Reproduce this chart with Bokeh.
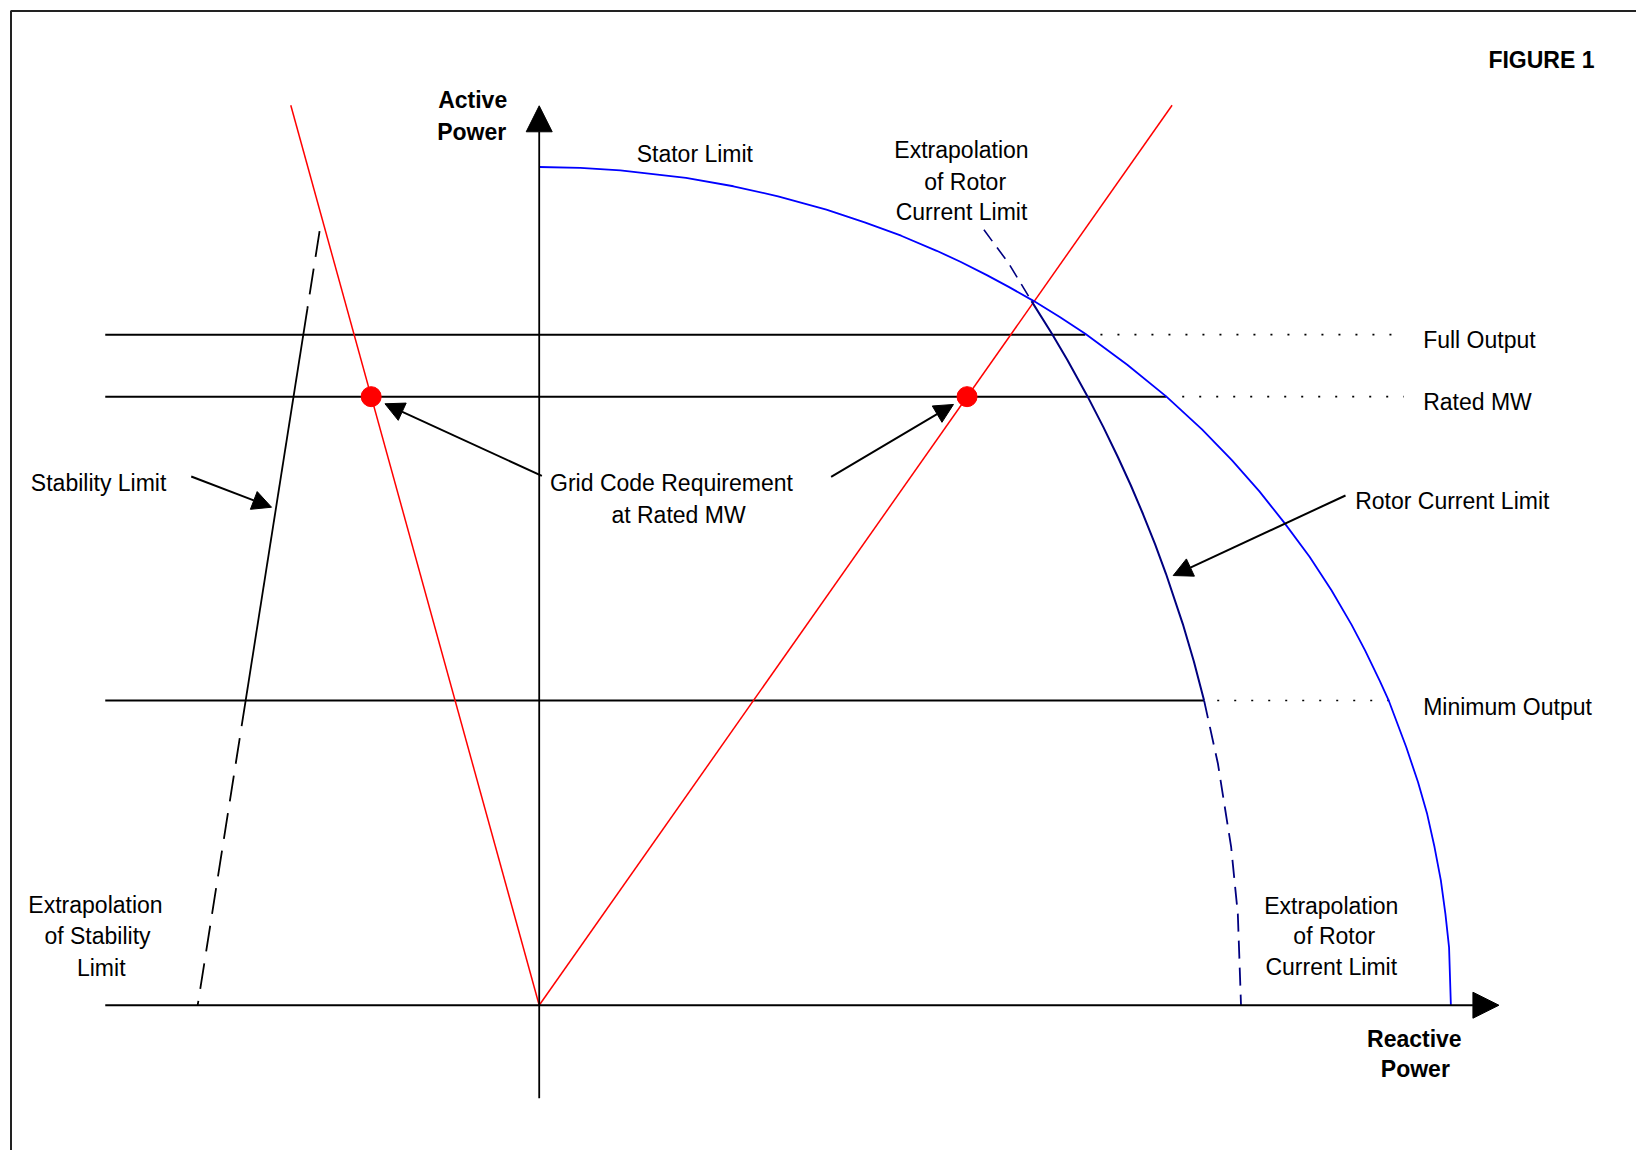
from bokeh.plotting import figure
from bokeh.models import Range1d, Arrow, NormalHead
from bokeh.core.properties import value
from bokeh.embed import file_html
from bokeh.resources import INLINE

# ---------------- data (per-unit: Q reactive on x, P active on y) ----------------
# Stator limit (blue)
stator_q = [0.000, 0.045, 0.089, 0.161, 0.213, 0.262, 0.315, 0.357, 0.397, 0.436, 0.462,
            0.491, 0.515, 0.5426, 0.571, 0.599, 0.645, 0.688, 0.727, 0.760, 0.790,
            0.817, 0.845, 0.869, 0.891, 0.906, 0.922, 0.932, 0.951, 0.964, 0.974,
            0.982, 0.989, 0.994, 0.998, 1.000]
stator_p = [1.000, 0.999, 0.996, 0.987, 0.977, 0.965, 0.949, 0.934, 0.918, 0.900, 0.887,
            0.871, 0.857, 0.840, 0.821, 0.801, 0.764, 0.726, 0.687, 0.650, 0.613,
            0.576, 0.535, 0.495, 0.454, 0.423, 0.387, 0.363, 0.308, 0.266, 0.228,
            0.189, 0.149, 0.109, 0.069, 0.000]
# Rotor current limit (navy) - solid part
rotor_q = [0.5400, 0.5624, 0.5792, 0.6016, 0.6187, 0.6347, 0.6490, 0.6623, 0.6755,
           0.6875, 0.7059, 0.7181, 0.7293]
rotor_p = [0.840, 0.801, 0.770, 0.726, 0.690, 0.654, 0.620, 0.586, 0.550,
           0.5147, 0.455, 0.410, 0.3635]
# Rotor current limit extrapolations (dashed)
rotor_ext_low_q = [0.7293, 0.7445, 0.7590, 0.7663, 0.7698]
rotor_ext_low_p = [0.3635, 0.288, 0.1885, 0.109, 0.000]
rotor_ext_up_q = [0.4878, 0.515, 0.5400]
rotor_ext_up_p = [0.925, 0.885, 0.840]
# Stability limit (black): dashed top, solid middle, dashed bottom
stab_top_q = [-0.2409, -0.2543]
stab_top_p = [0.9234, 0.8308]
stab_mid_q = [-0.2543, -0.3220]
stab_mid_p = [0.8308, 0.3635]
stab_low_q = [-0.3220, -0.3746]
stab_low_p = [0.3635, 0.000]
# Power factor lines (red)
pf_lead_q = [-0.2725, 0.0]
pf_lead_p = [1.0737, 0.0]
pf_lag_q = [0.0, 0.6942]
pf_lag_p = [0.0, 1.0737]
# Grid code points at rated MW
grid_q = [-0.1843, 0.4693]
grid_p = [0.726, 0.726]
# Output levels
levels_name = ["Full Output", "Rated MW", "Minimum Output"]
levels_p = [0.800, 0.726, 0.3635]
levels_q_start = [-0.476, -0.476, -0.476]
levels_q_solid_end = [0.599, 0.688, 0.7293]
levels_q_dot_start = [0.6156, 0.7053, 0.7437]
levels_q_dot_end = [0.9466, 0.9483, 0.9338]
# Axes
axis_q_start, axis_q_end = -0.476, 1.0527
axis_p_start, axis_p_end = -0.111, 1.073
# Pointer arrows (tail q, tail p, tip q, tip p)
ptr_tail_q = [-0.3817, 0.0029, 0.3202, 0.8844]
ptr_tail_p = [0.6307, 0.6315, 0.6302, 0.6081]
ptr_tip_q = [-0.2936, -0.1692, 0.4544, 0.6954]
ptr_tip_p = [0.5941, 0.7175, 0.7167, 0.5126]
# Frame corner
frame_q = [-0.5794, -0.5794, 1.25]
frame_p = [-0.25, 1.1862, 1.1862]

# Labels
left_txt = ["Full Output", "Rated MW", "Minimum Output", "Rotor Current Limit", "Stability Limit"]
left_q = [0.9696, 0.9696, 0.9696, 0.895, -0.5576]
left_p = [0.7935, 0.7198, 0.3559, 0.6019, 0.6226]
center_txt = ["Stator Limit", "Extrapolation", "of Rotor", "Current Limit",
              "Grid Code Requirement", "at Rated MW",
              "Extrapolation", "of Stability", "Limit",
              "Extrapolation", "of Rotor", "Current Limit"]
center_q = [0.1707, 0.4632, 0.4672, 0.4632, 0.1451, 0.1528,
            -0.4867, -0.4845, -0.4804, 0.8688, 0.8721, 0.8688]
center_p = [1.0155, 1.0199, 0.9823, 0.9462, 0.6226, 0.5854,
            0.1194, 0.0820, 0.0446, 0.1181, 0.0823, 0.0457]
bold_txt = ["Active", "Power", "Reactive", "Power"]
bold_q = [-0.073, -0.074, 0.9599, 0.961]
bold_p = [1.080, 1.0418, -0.040, -0.0759]
title_txt = ["FIGURE 1"]
title_q = [1.1575]
title_p = [1.1279]

FONT = "Liberation Sans"
FS = "23px"

p = figure(width=1636, height=1150,
           x_range=Range1d(-0.5909, 1.2036), y_range=Range1d(-0.1733, 1.1986),
           output_backend="svg", toolbar_location=None, min_border=0,
           x_axis_type=None, y_axis_type=None)
p.grid.visible = False
p.outline_line_color = None
p.background_fill_color = "white"
p.border_fill_color = "white"

# frame
p.line(frame_q, frame_p, line_color="#222222", line_width=2)

# output level lines
for i in range(len(levels_p)):
    p.line([levels_q_start[i], levels_q_solid_end[i]], [levels_p[i], levels_p[i]],
           line_color="black", line_width=2)
    p.line([levels_q_dot_start[i], levels_q_dot_end[i]], [levels_p[i], levels_p[i]],
           line_color="black", line_width=1.6, line_dash="2 15")

# stability limit
p.line(stab_top_q, stab_top_p, line_color="black", line_width=1.8, line_dash="26 12")
p.line(stab_mid_q, stab_mid_p, line_color="black", line_width=1.8)
p.line(stab_low_q, stab_low_p, line_color="black", line_width=1.8, line_dash="26 12")

# power factor lines
p.line(pf_lead_q, pf_lead_p, line_color="red", line_width=1.5)
p.line(pf_lag_q, pf_lag_p, line_color="red", line_width=1.5)

# stator limit
p.line(stator_q, stator_p, line_color="#0000ff", line_width=1.8)

# rotor current limit
p.line(rotor_q, rotor_p, line_color="#000080", line_width=2)
p.line(rotor_ext_low_q, rotor_ext_low_p, line_color="#000080", line_width=1.8, line_dash="18 9")
p.line(rotor_ext_up_q, rotor_ext_up_p, line_color="#000080", line_width=1.6, line_dash="14 8")

# axes with arrowheads
p.add_layout(Arrow(end=NormalHead(size=26, fill_color="black", line_color="black"),
                   x_start=0, y_start=axis_p_start, x_end=0, y_end=axis_p_end,
                   line_color="black", line_width=1.8))
p.add_layout(Arrow(end=NormalHead(size=26, fill_color="black", line_color="black"),
                   x_start=axis_q_start, y_start=0, x_end=axis_q_end, y_end=0,
                   line_color="black", line_width=2))

# grid code points
p.scatter(grid_q, grid_p, size=20, fill_color="red", line_color="red")

# pointer arrows
for i in range(len(ptr_tip_q)):
    p.add_layout(Arrow(end=NormalHead(size=19, fill_color="black", line_color="black"),
                       x_start=ptr_tail_q[i], y_start=ptr_tail_p[i],
                       x_end=ptr_tip_q[i], y_end=ptr_tip_p[i],
                       line_color="black", line_width=2))

# texts
p.text(left_q, left_p, text=left_txt, text_font=value(FONT), text_font_size=FS,
       text_align="left", text_baseline="middle", text_color="black")
p.text(center_q, center_p, text=center_txt, text_font=value(FONT), text_font_size=FS,
       text_align="center", text_baseline="middle", text_color="black")
p.text(bold_q, bold_p, text=bold_txt, text_font=value(FONT), text_font_size=FS,
       text_font_style="bold", text_align="center", text_baseline="middle", text_color="black")
p.text(title_q, title_p, text=title_txt, text_font=value(FONT), text_font_size=FS,
       text_font_style="bold", text_align="right", text_baseline="middle", text_color="black")

open("out.html", "w").write(file_html(p, INLINE))
